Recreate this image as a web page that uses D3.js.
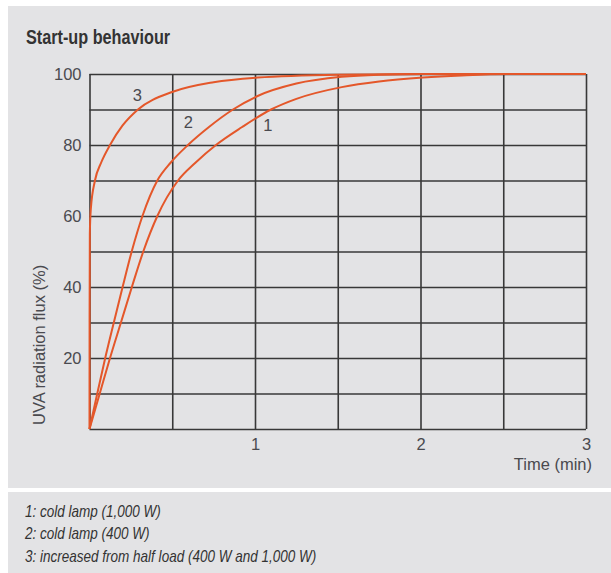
<!DOCTYPE html>
<html>
<head>
<meta charset="utf-8">
<script src="https://cdn.jsdelivr.net/npm/d3@7"></script>
<style>
  body { margin: 0; background: #fff; }
  svg { display: block; }
  .tick text { font-family: "Liberation Sans", Arial, sans-serif; font-size: 16.5px; fill: #4a4a4f; }
</style>
</head>
<body>
<div id="container"></div>
<script>
// time in minutes, flux in %
const curve1 = [[0,0],[0.062,10],[0.124,20],[0.19,30],[0.256,40],[0.325,50],[0.41,60],[0.535,70],
  [0.64,75],[0.764,80],[0.92,85],[1.097,90],[1.25,93],[1.524,96.3],[1.75,97.9],[2.015,99],[2.25,99.6],[2.526,100],[3,100]];
const curve2 = [[0,0],[0.047,10],[0.095,20],[0.147,30],[0.2,40],[0.255,50],[0.32,60],[0.41,70],
  [0.49,75],[0.595,80],[0.72,85],[0.867,90],[1.016,93.8],[1.25,97.3],[1.524,99.2],[1.75,99.8],[2.015,100],[3,100]];
const curve3 = [[0,0],[0.0005,30],[0.002,55],[0.008,62],[0.033,70],[0.07,75],[0.124,80],[0.2,85.5],
  [0.293,90],[0.504,95],[0.75,97.7],[1.016,99],[1.5,99.8],[2.0,100],[3,100]];
const series = [
  {name: "1", values: curve1, label: [1.077, 85.5]},
  {name: "2", values: curve2, label: [0.597, 86.5]},
  {name: "3", values: curve3, label: [0.289, 94]}
];
const xTicks = [0, 0.5, 1, 1.5, 2, 2.5, 3];
const xTickLabels = {1: "1", 2: "2", 3: "3"};
const yTicks = [0, 10, 20, 30, 40, 50, 60, 70, 80, 90, 100];
const yTickLabels = {20: "20", 40: "40", 60: "60", 80: "80", 100: "100"};
const legendLines = [
  "1: cold lamp (1,000 W)",
  "2: cold lamp (400 W)",
  "3: increased from half load (400 W and 1,000 W)"
];

const width = 611, height = 573;
const plot = {left: 89.5, right: 586, top: 74, bottom: 429};

const svg = d3.select("#container").append("svg")
  .attr("width", width).attr("height", height);

svg.append("rect").attr("x", 8).attr("y", 6).attr("width", width - 8).attr("height", 482).attr("fill", "#e3e3e5");
svg.append("rect").attr("x", 8).attr("y", 492).attr("width", width - 8).attr("height", height - 492).attr("fill", "#e3e3e5");

// no condensed face installed, so squeeze horizontally
svg.append("g")
  .attr("transform", "translate(26,44)scale(0.832,1)")
  .append("text")
  .attr("font-family", "'Liberation Sans', Arial, sans-serif")
  .attr("font-weight", "bold").attr("font-size", 19.5).attr("fill", "#333")
  .text("Start-up behaviour");

const x = d3.scaleLinear().domain([0, 3]).range([plot.left, plot.right]);
const y = d3.scaleLinear().domain([0, 100]).range([plot.bottom, plot.top]);

const xAxis = d3.axisBottom(x).tickValues(xTicks)
  .tickSize(-(plot.bottom - plot.top)).tickPadding(9)
  .tickFormat(d => xTickLabels[d] || "");
const yAxis = d3.axisLeft(y).tickValues(yTicks)
  .tickSize(-(plot.right - plot.left)).tickPadding(8)
  .tickFormat(d => yTickLabels[d] || "");

const gx = svg.append("g").attr("transform", "translate(0," + plot.bottom + ")").call(xAxis);
const gy = svg.append("g").attr("transform", "translate(" + plot.left + ",0)").call(yAxis);
[gx, gy].forEach(g => {
  g.select(".domain").remove();
  g.selectAll(".tick line").attr("stroke", "#383838").attr("stroke-width", 1.6);
});

const line = d3.line().x(d => x(d[0])).y(d => y(d[1])).curve(d3.curveMonotoneX);

svg.selectAll(".curve")
  .data(series)
  .enter()
  .append("path")
  .attr("class", "curve")
  .attr("d", d => line(d.values))
  .attr("fill", "none")
  .attr("stroke", "#e4572a")
  .attr("stroke-width", 2);

svg.selectAll(".clabel")
  .data(series)
  .enter()
  .append("text")
  .attr("class", "clabel")
  .attr("x", d => x(d.label[0]))
  .attr("y", d => y(d.label[1]))
  .attr("text-anchor", "middle")
  .attr("dy", "0.35em")
  .attr("font-family", "'Liberation Sans', Arial, sans-serif")
  .attr("font-size", 16.5).attr("fill", "#4a4a4f")
  .text(d => d.name);

svg.append("text")
  .attr("x", 592).attr("y", 470)
  .attr("text-anchor", "end")
  .attr("font-family", "'Liberation Sans', Arial, sans-serif")
  .attr("font-size", 16.5).attr("fill", "#4a4a4f")
  .text("Time (min)");

svg.append("text")
  .attr("transform", "translate(45, 425)rotate(-90)")
  .attr("font-family", "'Liberation Sans', Arial, sans-serif")
  .attr("font-size", 16.5).attr("fill", "#4a4a4f")
  .text("UVA radiation flux (%)");

svg.append("g")
  .attr("transform", "translate(25,0)scale(0.845,1)")
  .selectAll(".legend")
  .data(legendLines)
  .enter()
  .append("text")
  .attr("class", "legend")
  .attr("x", 0)
  .attr("y", (d, i) => 517 + i * 22.5)
  .attr("font-family", "'Liberation Sans', Arial, sans-serif")
  .attr("font-style", "italic").attr("font-size", 16).attr("fill", "#333")
  .text(d => d);
</script>
</body>
</html>
